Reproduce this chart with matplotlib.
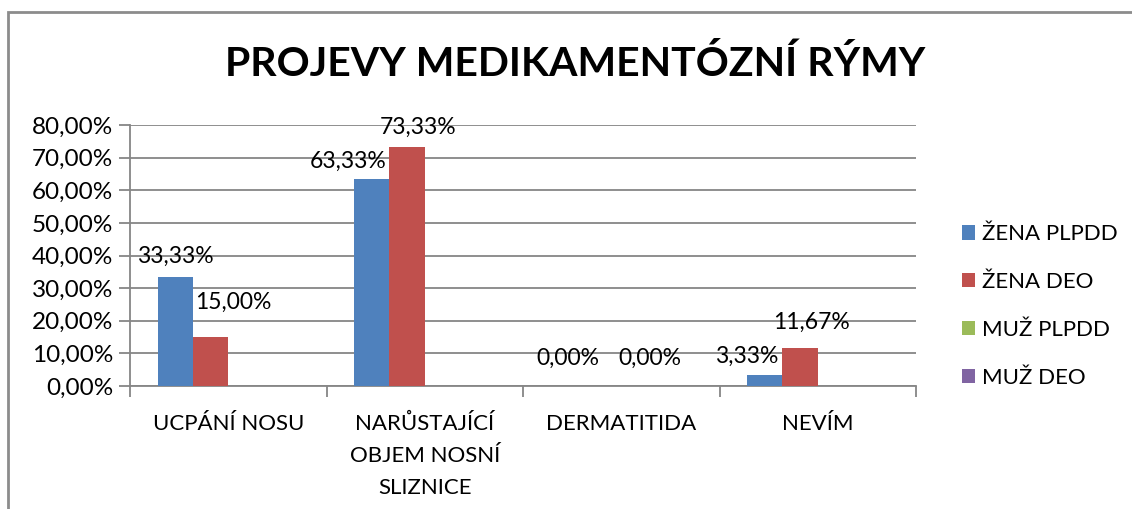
import numpy as np
import matplotlib
matplotlib.use("Agg")
import matplotlib.pyplot as plt
from matplotlib.patches import Rectangle

# data
categories = ["UCPÁNÍ NOSU", "NARŮSTAJÍCÍ\nOBJEM NOSNÍ\nSLIZNICE", "DERMATITIDA", "NEVÍM"]
series_names = ["ŽENA PLPDD", "ŽENA DEO", "MUŽ PLPDD", "MUŽ DEO"]
zena_plpdd = [0.3333, 0.6333, 0.0, 0.0333]
zena_deo = [0.15, 0.7333, 0.0, 0.1167]
muz_plpdd = [np.nan, np.nan, np.nan, np.nan]
muz_deo = [np.nan, np.nan, np.nan, np.nan]
yticks = [0, 0.1, 0.2, 0.3, 0.4, 0.5, 0.6, 0.7, 0.8]

colors = ["#4F81BD", "#C0504D", "#9BBB59", "#8064A2"]
# label nudges in pixels (dx, dy above bar top), as Excel placed them
zp_off = [(0, 21), (-24, 18), (0, 28), (-18, 19)]
zd_off = [(23, 35), (11, 19), (46, 28), (11, 26)]

plt.rcParams['font.family'] = ['Lato', 'DejaVu Sans']

fig = plt.figure(figsize=(11.32, 5.09), dpi=100)
W, H = 1132, 509
ax = fig.add_axes([130 / W, 1 - 386 / H, (916 - 130) / W, (386 - 125) / H])

x = np.arange(len(categories))
w = 0.18
all_series = [zena_plpdd, zena_deo, muz_plpdd, muz_deo]
bars = []
for j, (vals, name, c) in enumerate(zip(all_series, series_names, colors)):
    b = ax.bar(x + (j - 1.5) * w, vals, width=w, color=c, label=name, zorder=3)
    bars.append(b)

def pct(v):
    return f"{v * 100:.2f}%".replace(".", ",")

for vals, offs, j in [(zena_plpdd, zp_off, 0), (zena_deo, zd_off, 1)]:
    for i, v in enumerate(vals):
        dx, dy = offs[i]
        ax.annotate(pct(v), xy=(x[i] + (j - 1.5) * w, v), xytext=(dx, dy),
                    textcoords='offset pixels', ha='center', va='center',
                    fontsize=16.5, color='black', zorder=4)

ax.set_xlim(-0.5, len(categories) - 0.5)
ax.set_ylim(0, 0.8)
ax.set_yticks(yticks)
ax.set_yticklabels([pct(v) for v in yticks], fontsize=17.5)
ax.yaxis.grid(True, color='#868686', linewidth=1.3, zorder=0)
ax.set_axisbelow(True)

ax.set_xticks(x)
ax.set_xticklabels(categories, fontsize=16, linespacing=1.75)
ax.set_xticks(np.arange(len(categories) + 1) - 0.5, minor=True)
ax.tick_params(axis='x', which='major', length=0, pad=20)
ax.tick_params(axis='x', which='minor', length=8, color='#868686', width=1.3, direction='out')
ax.tick_params(axis='y', length=8, color='#868686', width=1.3, pad=4)

for s in ['top', 'right']:
    ax.spines[s].set_visible(False)
for s in ['left', 'bottom']:
    ax.spines[s].set_color('#868686')
    ax.spines[s].set_linewidth(1.3)

fig.suptitle("PROJEVY MEDIKAMENTÓZNÍ RÝMY", x=575 / W, y=1 - 64 / H, va='center',
             fontsize=29.5, fontweight='bold')

leg = fig.legend(handles=bars, labels=series_names, loc='center left',
                 bbox_to_anchor=(942 / W, 1 - 306 / H), frameon=False,
                 fontsize=16, handlelength=0.6, handleheight=0.6,
                 handletextpad=0.3, labelspacing=1.25)

# chart-area border
fig.patches.append(Rectangle((8 / W, -0.2), 1.2, (1 - 12 / H) + 0.2,
                             transform=fig.transFigure, fill=False,
                             edgecolor='#8c8c8c', linewidth=2, clip_on=False))

fig.savefig("out.png", dpi=100)
